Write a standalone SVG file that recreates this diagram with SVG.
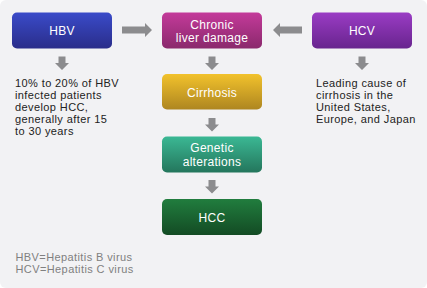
<svg xmlns="http://www.w3.org/2000/svg" width="427" height="288" viewBox="0 0 427 288">
<defs>
<linearGradient id="gHBV" x1="0" y1="0" x2="0" y2="1"><stop offset="0" stop-color="#3a4bc9"/><stop offset="1" stop-color="#2a2d8a"/></linearGradient>
<linearGradient id="gCLD" x1="0" y1="0" x2="0" y2="1"><stop offset="0" stop-color="#c43a9a"/><stop offset="1" stop-color="#8a296c"/></linearGradient>
<linearGradient id="gHCV" x1="0" y1="0" x2="0" y2="1"><stop offset="0" stop-color="#9a3cc4"/><stop offset="1" stop-color="#68248e"/></linearGradient>
<linearGradient id="gCIR" x1="0" y1="0" x2="0" y2="1"><stop offset="0" stop-color="#f2c22c"/><stop offset="1" stop-color="#ae8620"/></linearGradient>
<linearGradient id="gGEN" x1="0" y1="0" x2="0" y2="1"><stop offset="0" stop-color="#3bb894"/><stop offset="1" stop-color="#24765c"/></linearGradient>
<linearGradient id="gHCC" x1="0" y1="0" x2="0" y2="1"><stop offset="0" stop-color="#217d3e"/><stop offset="1" stop-color="#134b24"/></linearGradient>
</defs>
<style>
.lbl{font-family:"Liberation Sans",Arial,sans-serif;font-size:12px;fill:#ffffff;text-anchor:middle;letter-spacing:0.3px}
.body{font-family:"Liberation Sans",Arial,sans-serif;font-size:11px;fill:#222222;letter-spacing:0.4px}
.legend{font-family:"Liberation Sans",Arial,sans-serif;font-size:11px;fill:#808080;letter-spacing:0.4px}
.arr{fill:#8c8c8e}
</style>
<rect x="0" y="0" width="427" height="288" fill="#ffffff"/>
<rect x="0" y="0" width="427" height="288" rx="6" fill="#f2f2f4"/>

<g id="connectors">
<path class="arr" d="M122,26.5 H145 V23 L152,30 L145,37 V33.5 H122 Z"/>
<path class="arr" d="M302,26.5 H280 V23 L273,30 L280,37 V33.5 H302 Z"/>
<path class="arr" d="M58.5,56.5 V63 H55 L62,70 L69,63 H65.5 V56.5 Z"/>
<path class="arr" d="M208.5,56.5 V63 H205 L212,70 L219,63 H215.5 V56.5 Z"/>
<path class="arr" d="M358.5,56.5 V63 H355 L362,70 L369,63 H365.5 V56.5 Z"/>
<path class="arr" d="M208.5,118 V124.5 H205 L212,131.5 L219,124.5 H215.5 V118 Z"/>
<path class="arr" d="M208.5,180 V186.5 H205 L212,193.5 L219,186.5 H215.5 V180 Z"/>
</g>

<g id="hbv">
<rect x="12" y="12.5" width="100" height="36" rx="5" fill="url(#gHBV)"/>
<text class="lbl" x="62" y="35">HBV</text>
</g>
<g id="chronic">
<rect x="162" y="12.5" width="100" height="36" rx="5" fill="url(#gCLD)"/>
<text class="lbl" x="212" y="29">Chronic</text>
<text class="lbl" x="212" y="42">liver damage</text>
</g>
<g id="hcv">
<rect x="312" y="12.5" width="100" height="36" rx="5" fill="url(#gHCV)"/>
<text class="lbl" x="362" y="35">HCV</text>
</g>
<g id="cirrhosis">
<rect x="162" y="74" width="100" height="35.5" rx="5" fill="url(#gCIR)"/>
<text class="lbl" x="212" y="96.5">Cirrhosis</text>
</g>
<g id="genetic">
<rect x="162" y="136.5" width="100" height="36" rx="5" fill="url(#gGEN)"/>
<text class="lbl" x="212" y="152">Genetic</text>
<text class="lbl" x="212" y="165.5">alterations</text>
</g>
<g id="hcc">
<rect x="162" y="199" width="100" height="36" rx="5" fill="url(#gHCC)"/>
<text class="lbl" x="212" y="221.5">HCC</text>
</g>

<g id="hbv-note">
<text class="body" x="15" y="87">10% to 20% of HBV</text>
<text class="body" x="15" y="99">infected patients</text>
<text class="body" x="15" y="111">develop HCC,</text>
<text class="body" x="15" y="123">generally after 15</text>
<text class="body" x="15" y="135">to 30 years</text>
</g>
<g id="hcv-note">
<text class="body" x="316" y="87">Leading cause of</text>
<text class="body" x="316" y="99">cirrhosis in the</text>
<text class="body" x="316" y="111">United States,</text>
<text class="body" x="316" y="123">Europe, and Japan</text>
</g>
<g id="legend">
<text class="legend" x="15.5" y="260.5">HBV=Hepatitis B virus</text>
<text class="legend" x="15.5" y="273">HCV=Hepatitis C virus</text>
</g>
</svg>
